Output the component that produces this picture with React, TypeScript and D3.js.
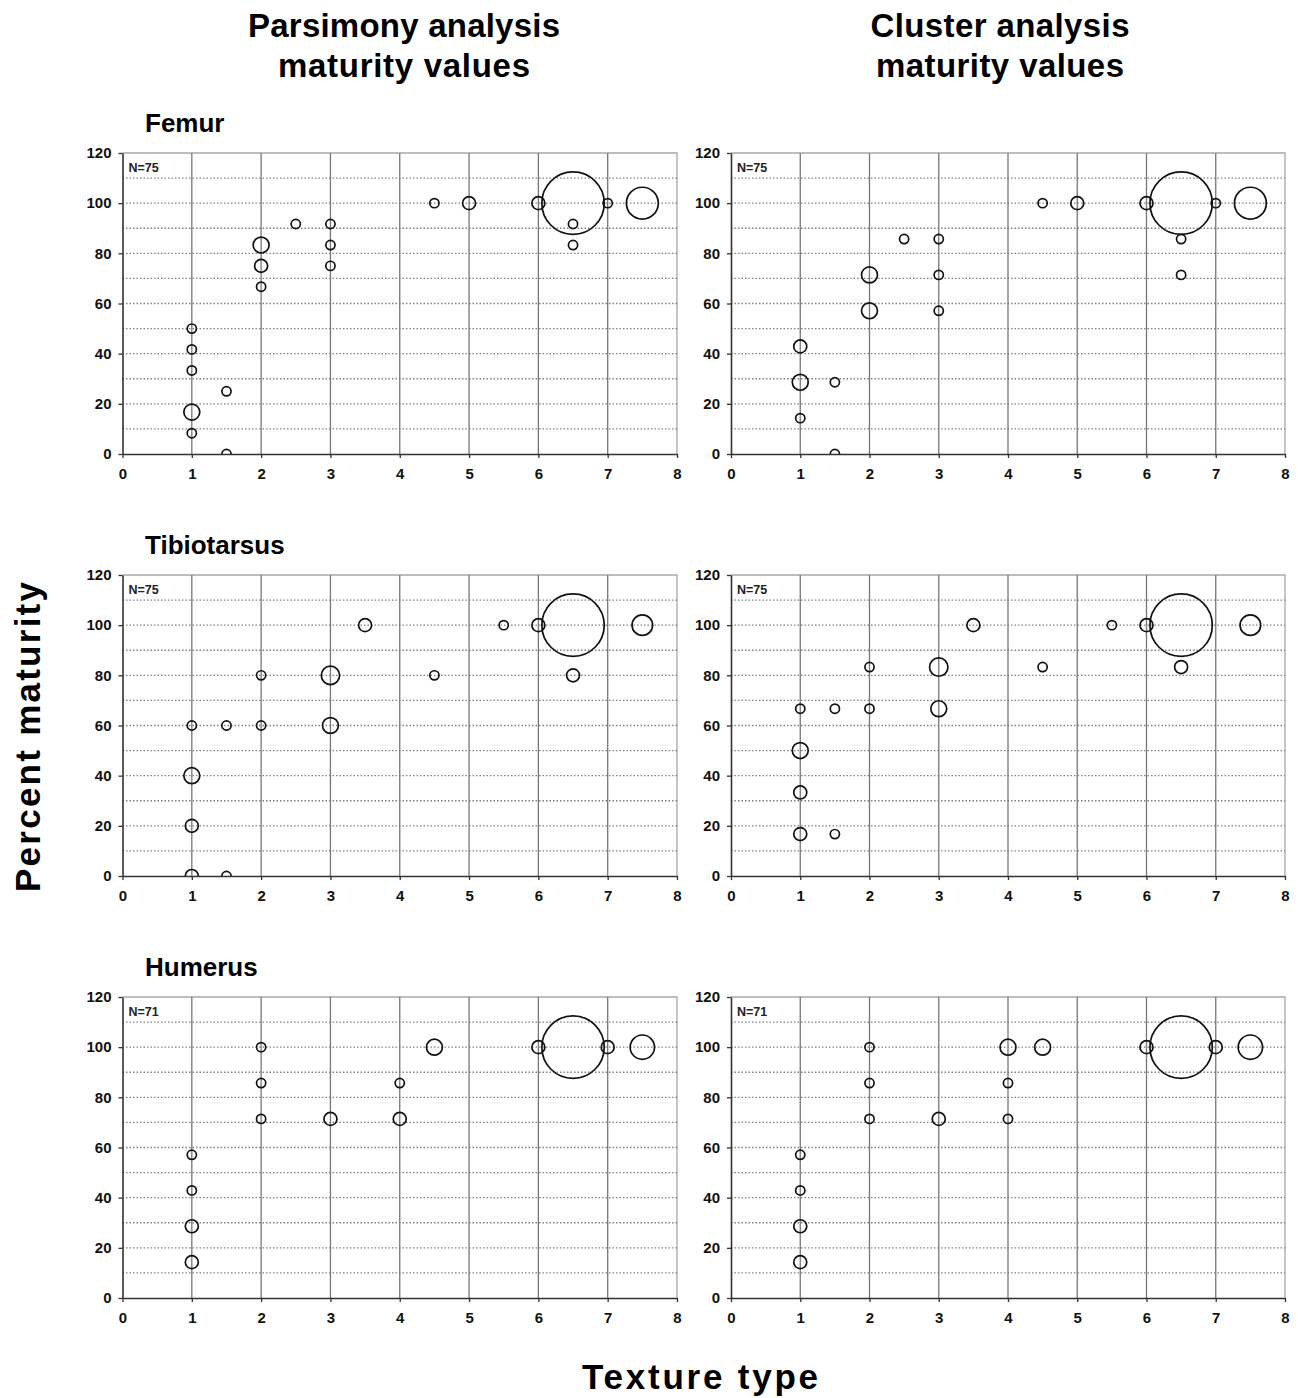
import React, { useEffect, useRef } from "react";
import * as d3 from "d3";

// each point: [texture type, percent maturity, number of specimens]
const femurParsimony = [
  [1, 50, 1], [1, 41.7, 1], [1, 33.3, 1], [1, 16.7, 3], [1, 8.3, 1],
  [1.5, 25, 1], [1.5, 0, 1],
  [2, 83.3, 3], [2, 75, 2], [2, 66.7, 1],
  [2.5, 91.7, 1],
  [3, 91.7, 1], [3, 83.3, 1], [3, 75, 1],
  [4.5, 100, 1], [5, 100, 2], [6, 100, 2],
  [6.5, 100, 46], [6.5, 91.7, 1], [6.5, 83.3, 1],
  [7, 100, 1], [7.5, 100, 12],
];
const femurCluster = [
  [1, 42.9, 2], [1, 28.6, 3], [1, 14.3, 1],
  [1.5, 28.6, 1], [1.5, 0, 1],
  [2, 71.4, 3], [2, 57.1, 3],
  [2.5, 85.7, 1],
  [3, 85.7, 1], [3, 71.4, 1], [3, 57.1, 1],
  [4.5, 100, 1], [5, 100, 2], [6, 100, 2],
  [6.5, 100, 46], [6.5, 85.7, 1], [6.5, 71.4, 1],
  [7, 100, 1], [7.5, 100, 12],
];
const tibioParsimony = [
  [1, 60, 1], [1, 40, 3], [1, 20, 2], [1, 0, 2],
  [1.5, 60, 1], [1.5, 0, 1],
  [2, 80, 1], [2, 60, 1],
  [3, 80, 4], [3, 60, 3],
  [3.5, 100, 2], [4.5, 80, 1], [5.5, 100, 1], [6, 100, 2],
  [6.5, 100, 46], [6.5, 80, 2],
  [7.5, 100, 5],
];
const tibioCluster = [
  [1, 66.7, 1], [1, 50, 3], [1, 33.3, 2], [1, 16.7, 2],
  [1.5, 66.7, 1], [1.5, 16.7, 1],
  [2, 83.3, 1], [2, 66.7, 1],
  [3, 83.3, 4], [3, 66.7, 3],
  [3.5, 100, 2], [4.5, 83.3, 1], [5.5, 100, 1], [6, 100, 2],
  [6.5, 100, 46], [6.5, 83.3, 2],
  [7.5, 100, 5],
];
const humerusParsimony = [
  [1, 57.1, 1], [1, 42.9, 1], [1, 28.6, 2], [1, 14.3, 2],
  [2, 100, 1], [2, 85.7, 1], [2, 71.4, 1],
  [3, 71.4, 2],
  [4, 85.7, 1], [4, 71.4, 2],
  [4.5, 100, 3], [6, 100, 2],
  [6.5, 100, 46],
  [7, 100, 2], [7.5, 100, 7],
];
const humerusCluster = [
  [1, 57.1, 1], [1, 42.9, 1], [1, 28.6, 2], [1, 14.3, 2],
  [2, 100, 1], [2, 85.7, 1], [2, 71.4, 1],
  [3, 71.4, 2],
  [4, 100, 3], [4, 85.7, 1], [4, 71.4, 1],
  [4.5, 100, 3], [6, 100, 2],
  [6.5, 100, 46],
  [7, 100, 2], [7.5, 100, 7],
];

const xTicks = [0, 1, 2, 3, 4, 5, 6, 7, 8];
const yTicks = [0, 20, 40, 60, 80, 100, 120];
const xGrid = [1, 2, 3, 4, 5, 6, 7];
const yGrid = [10, 20, 30, 40, 50, 60, 70, 80, 90, 100, 110];

const boneNames = ["Femur", "Tibiotarsus", "Humerus"];
const sampleSizes = ["N=75", "N=75", "N=71"];
const panelData = [
  [femurParsimony, femurCluster],
  [tibioParsimony, tibioCluster],
  [humerusParsimony, humerusCluster],
];

const FONT = "'Liberation Sans', Arial, sans-serif";

const App: React.FC = () => {
  const svgRef = useRef<SVGSVGElement | null>(null);

  useEffect(() => {
    const width = 1298;
    const height = 1398;
    const cols = [
      { x0: 122.5, x1: 677 },
      { x0: 731, x1: 1285 },
    ];
    const rows = [
      { y0: 153, y1: 454 },
      { y0: 575, y1: 876 },
      { y0: 997, y1: 1298 },
    ];

    const svg = d3
      .select(svgRef.current)
      .attr("width", width)
      .attr("height", height)
      .attr("viewBox", [0, 0, width, height])
      .style("font-family", FONT);
    svg.selectAll("*").remove();

    const r = d3.scaleSqrt().domain([0, 46]).range([0, 31.2]);

    // column titles
    const titles = [
      { cx: 404, lines: ["Parsimony analysis", "maturity values"], len: [312, 252] },
      { cx: 1000, lines: ["Cluster analysis", "maturity values"], len: [259, 248] },
    ];
    titles.forEach((t) => {
      t.lines.forEach((line, i) => {
        svg
          .append("text")
          .attr("x", t.cx)
          .attr("y", 37 + i * 40)
          .attr("text-anchor", "middle")
          .attr("font-size", 33)
          .attr("font-weight", "bold")
          .attr("textLength", t.len[i])
          .attr("lengthAdjust", "spacing")
          .text(line);
      });
    });

    rows.forEach((row, ri) => {
      // bone label
      svg
        .append("text")
        .attr("x", 145)
        .attr("y", row.y0 - 21)
        .attr("font-size", 26)
        .attr("font-weight", "bold")
        .text(boneNames[ri]);

      cols.forEach((col, ci) => {
        const x = d3.scaleLinear().domain([0, 8]).range([col.x0, col.x1]);
        const y = d3.scaleLinear().domain([0, 120]).range([row.y1, row.y0]);
        const g = svg.append("g");

        // border top/right
        g.append("path")
          .attr("d", `M${col.x0},${row.y0}H${col.x1}V${row.y1}`)
          .attr("fill", "none")
          .attr("stroke", "#a8a8a8")
          .attr("stroke-width", 1.3);

        // dotted horizontal grid
        g.selectAll(".hg")
          .data(yGrid)
          .enter()
          .append("line")
          .attr("x1", col.x0)
          .attr("x2", col.x1)
          .attr("y1", (d) => y(d))
          .attr("y2", (d) => y(d))
          .attr("stroke", "#808080")
          .attr("stroke-width", 1.3)
          .attr("stroke-dasharray", "1.5,2");

        // vertical grid
        g.selectAll(".vg")
          .data(xGrid)
          .enter()
          .append("line")
          .attr("x1", (d) => x(d))
          .attr("x2", (d) => x(d))
          .attr("y1", row.y0)
          .attr("y2", row.y1)
          .attr("stroke", "#777")
          .attr("stroke-width", 1.3);

        // bubbles, clipped to plot area
        const clipId = `clip-${ri}-${ci}`;
        svg
          .append("clipPath")
          .attr("id", clipId)
          .append("rect")
          .attr("x", col.x0)
          .attr("y", row.y0)
          .attr("width", col.x1 - col.x0)
          .attr("height", row.y1 - row.y0);

        g.append("g")
          .attr("clip-path", `url(#${clipId})`)
          .selectAll("circle")
          .data(panelData[ri][ci])
          .enter()
          .append("circle")
          .attr("cx", (d) => x(d[0]))
          .attr("cy", (d) => y(d[1]))
          .attr("r", (d) => r(d[2]))
          .attr("fill", "none")
          .attr("stroke", "#111")
          .attr("stroke-width", 1.7);

        // axes
        const gx = g
          .append("g")
          .attr("transform", `translate(0,${row.y1})`)
          .call(
            d3.axisBottom(x).tickValues(xTicks).tickSize(4).tickPadding(10).tickSizeOuter(0),
          );
        const gy = g
          .append("g")
          .attr("transform", `translate(${col.x0},0)`)
          .call(
            d3.axisLeft(y).tickValues(yTicks).tickSize(4).tickPadding(7).tickSizeOuter(0),
          );
        [gx, gy].forEach((a) => {
          a.select(".domain").attr("stroke", "#333").attr("stroke-width", 1.6);
          a.selectAll(".tick line").attr("stroke", "#333").attr("stroke-width", 1.3);
          a.selectAll("text")
            .attr("font-size", 15)
            .attr("font-weight", "bold")
            .attr("font-family", FONT)
            .attr("fill", "#111");
        });

        // sample size
        g.append("text")
          .attr("x", col.x0 + 6)
          .attr("y", row.y0 + 19)
          .attr("font-size", 12.5)
          .attr("font-weight", "bold")
          .attr("fill", "#222")
          .text(sampleSizes[ri]);
      });
    });

    // axis titles
    svg
      .append("text")
      .attr("transform", "translate(40,737) rotate(-90)")
      .attr("text-anchor", "middle")
      .attr("font-size", 35)
      .attr("font-weight", "bold")
      .attr("textLength", 310)
      .attr("lengthAdjust", "spacing")
      .text("Percent maturity");

    svg
      .append("text")
      .attr("x", 700)
      .attr("y", 1389)
      .attr("text-anchor", "middle")
      .attr("font-size", 35)
      .attr("font-weight", "bold")
      .attr("textLength", 236)
      .attr("lengthAdjust", "spacing")
      .text("Texture type");
  }, []);

  return (
    <div style={{ position: "absolute", left: 0, top: 0, background: "#fff" }}>
      <svg ref={svgRef} style={{ display: "block" }}></svg>
    </div>
  );
};

export default App;
